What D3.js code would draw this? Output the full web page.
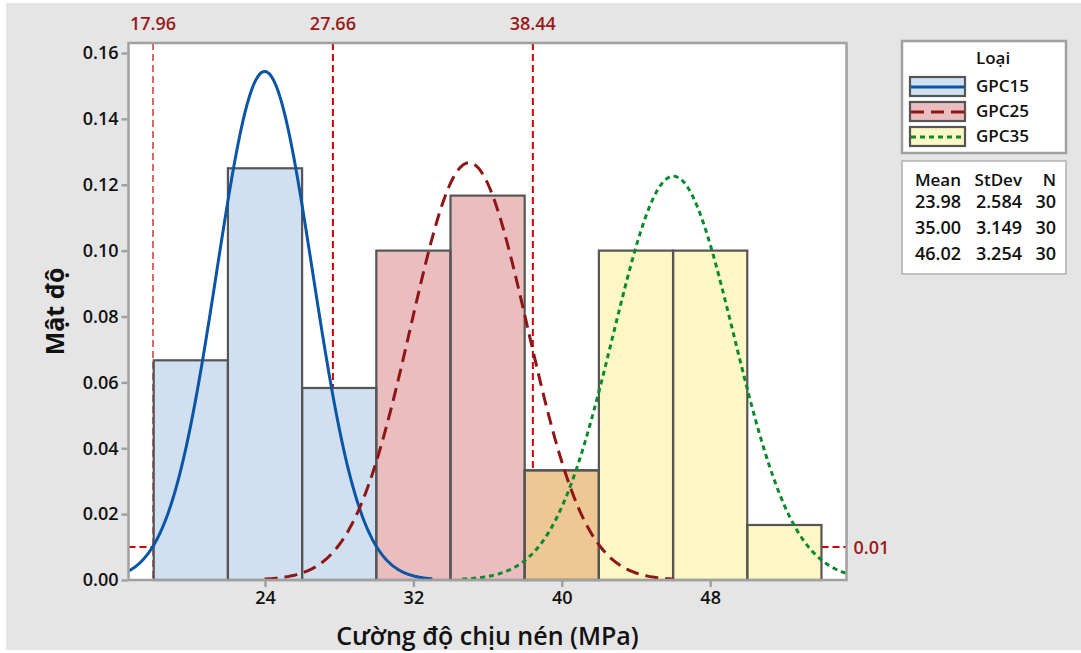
<!DOCTYPE html>
<html>
<head>
<meta charset="utf-8">
<script src="https://cdn.jsdelivr.net/npm/d3@7/dist/d3.min.js"></script>
<style>
  html, body { margin: 0; padding: 0; background: #ffffff; }
  svg { display: block; font-family: "Open Sans", "Noto Sans", sans-serif; }
</style>
</head>
<body>
<svg id="chart" width="1081" height="653"></svg>
<script>
// ---------------- DATA ----------------
const seriesNames = ["GPC15", "GPC25", "GPC35"];
const means = [23.98, 35.00, 46.02];
const stdevs = [2.584, 3.149, 3.254];
const counts = [30, 30, 30];
const binWidth = 4;
// histogram bins (lower edge) and densities
const gpc15BinLo = [18, 22, 26];
const gpc15Density = [0.0667, 0.125, 0.0583];
const gpc25BinLo = [30, 34, 38];
const gpc25Density = [0.1, 0.1167, 0.0333];
const gpc35BinLo = [38, 42, 46, 50];
const gpc35Density = [0.0333, 0.1, 0.1, 0.0167];
// reference lines
const refX = [17.96, 27.66, 38.44];
const refY = [0.01];
const xTicks = [24, 32, 40, 48];
const yTicks = [0, 0.02, 0.04, 0.06, 0.08, 0.10, 0.12, 0.14, 0.16];
const xTitle = "Cường độ chịu nén (MPa)";
const yTitle = "Mật độ";
const legendTitle = "Loại";
const statsHeader = ["Mean", "StDev", "N"];

// ---------------- STYLE ----------------
// semi-transparent fills (colour, opacity) so overlapping bins blend
const fills = [["#d0e0f0", 1], ["#eabebe", 1], ["rgb(248,226,40)", 0.28]];
const lineColors = ["#0a55a5", "#8e1616", "#0b8a2c"];
const dashes = [null, "13,7", "5,4"];
const refColor = "#d00000";
const refLabelColor = "#9a1a1a";
const frameColor = "#a0a0a0";
const textColor = "#111111";

const svg = d3.select("#chart");
const W = 1081, H = 653;
const plot = { left: 128.5, right: 846.5, top: 43, bottom: 580 };

svg.append("rect").attr("x", 6).attr("y", 3).attr("width", W - 6).attr("height", 647).attr("fill", "#e5e5e5");

const x = d3.scaleLinear().domain([16.64, 55.35]).range([plot.left, plot.right]);
const y = d3.scaleLinear().domain([0, 0.16]).range([plot.bottom, 53]);

// plot background
svg.append("rect").attr("x", plot.left).attr("y", plot.top)
  .attr("width", plot.right - plot.left).attr("height", plot.bottom - plot.top)
  .attr("fill", "#ffffff");

svg.append("clipPath").attr("id", "clip").append("rect")
  .attr("x", plot.left).attr("y", plot.top)
  .attr("width", plot.right - plot.left).attr("height", plot.bottom - plot.top);

// reference lines (behind bars)
const refG = svg.append("g").attr("clip-path", "url(#clip)");
refX.forEach((v, i) => {
  refG.append("line")
    .attr("x1", x(v)).attr("x2", x(v))
    .attr("y1", plot.top).attr("y2", plot.bottom)
    .attr("stroke", refColor)
    .attr("stroke-width", i === 0 ? 1.2 : 2)
    .attr("stroke-dasharray", "7,4");
});
refY.forEach(v => {
  svg.append("line")
    .attr("x1", plot.left).attr("x2", plot.right)
    .attr("y1", y(v)).attr("y2", y(v))
    .attr("stroke", refColor).attr("stroke-width", 2)
    .attr("stroke-dasharray", "7,4");
});

// bars
const bins = [
  gpc15BinLo.map((lo, i) => ({ lo, d: gpc15Density[i] })),
  gpc25BinLo.map((lo, i) => ({ lo, d: gpc25Density[i] })),
  gpc35BinLo.map((lo, i) => ({ lo, d: gpc35Density[i] }))
];
const barG = svg.append("g").style("isolation", "isolate");
const barRect = (sel) => sel
  .attr("x", d => x(d.lo)).attr("y", d => y(d.d))
  .attr("width", d => x(d.lo + binWidth) - x(d.lo))
  .attr("height", d => y(0) - y(d.d));
// white backing so reference lines are hidden behind the bars
bins.forEach(arr => {
  barG.selectAll(null).data(arr).enter().append("rect").call(barRect).attr("fill", "#ffffff");
});
bins.forEach((arr, s) => {
  barG.selectAll(null).data(arr).enter().append("rect").call(barRect)
    .attr("fill", fills[s][0]).attr("fill-opacity", fills[s][1]);
});
bins.forEach(arr => {
  barG.selectAll(null).data(arr).enter().append("rect").call(barRect)
    .attr("fill", "none").attr("stroke", "#555555").attr("stroke-width", 2.2);
});

// fitted normal curves (from the mean / stdev shown in the table)
const pdf = (v, m, s) => Math.exp(-0.5 * ((v - m) / s) ** 2) / (s * Math.sqrt(2 * Math.PI));
const curveG = svg.append("g").attr("clip-path", "url(#clip)");
const line = d3.line().x(d => x(d[0])).y(d => y(d[1]));
means.forEach((m, s) => {
  const sd = stdevs[s];
  const lo = Math.max(x.domain()[0], m - 3.5 * sd);
  const hi = Math.min(x.domain()[1], m + 3.5 * sd);
  const pts = d3.range(0, 301).map(k => {
    const v = lo + (hi - lo) * k / 300;
    return [v, pdf(v, m, sd)];
  });
  curveG.append("path").datum(pts)
    .attr("d", line)
    .attr("fill", "none")
    .attr("stroke", lineColors[s])
    .attr("stroke-width", 3)
    .attr("stroke-dasharray", dashes[s]);
});

// frame
svg.append("rect").attr("x", plot.left).attr("y", plot.top)
  .attr("width", plot.right - plot.left).attr("height", plot.bottom - plot.top)
  .attr("fill", "none").attr("stroke", frameColor).attr("stroke-width", 2.5);

// axes
const yAxis = d3.axisLeft(y).tickValues(yTicks).tickFormat(d3.format(".2f")).tickSize(6).tickPadding(3);
const yg = svg.append("g").attr("transform", `translate(${plot.left - 1},0)`).call(yAxis);
const xAxis = d3.axisBottom(x).tickValues(xTicks).tickFormat(d3.format("d")).tickSize(6).tickPadding(4);
const xg = svg.append("g").attr("transform", `translate(0,${plot.bottom + 1})`).call(xAxis);
[yg, xg].forEach(g => {
  g.select(".domain").remove();
  g.selectAll(".tick line").attr("stroke", frameColor).attr("stroke-width", 2.5);
  g.selectAll(".tick text").attr("fill", textColor).style("font-size", "18px").style("font-weight", 600)
    .style("font-family", "'Open Sans', sans-serif");
});

// reference labels
refX.forEach(v => {
  svg.append("text").attr("x", x(v)).attr("y", 30).attr("text-anchor", "middle")
    .attr("fill", refLabelColor).style("font-size", "18px").style("font-weight", 600)
    .text(d3.format(".2f")(v));
});
refY.forEach(v => {
  svg.append("text").attr("x", plot.right + 7).attr("y", y(v) + 7).attr("text-anchor", "start")
    .attr("fill", refLabelColor).style("font-size", "18px").style("font-weight", 600)
    .text(d3.format(".2f")(v));
});

// axis titles
svg.append("text").attr("x", (plot.left + plot.right) / 2).attr("y", 645).attr("text-anchor", "middle")
  .attr("fill", textColor).style("font-size", "25px").style("font-weight", 600).text(xTitle);
svg.append("text").attr("transform", `translate(64,${(plot.top + plot.bottom) / 2}) rotate(-90)`)
  .attr("text-anchor", "middle")
  .attr("fill", textColor).style("font-size", "25px").style("font-weight", 700).text(yTitle);

// legend
const lg = svg.append("g");
lg.append("rect").attr("x", 902).attr("y", 41).attr("width", 164).attr("height", 112)
  .attr("fill", "#fff").attr("stroke", frameColor).attr("stroke-width", 2.5);
lg.append("text").attr("x", 976).attr("y", 64).attr("fill", textColor)
  .style("font-size", "17px").style("font-weight", 600).text(legendTitle);
seriesNames.forEach((n, i) => {
  const yy = 77 + i * 25;
  lg.append("rect").attr("x", 910).attr("y", yy).attr("width", 55).attr("height", 19)
    .attr("fill", "#fff").attr("stroke", "none");
  lg.append("rect").attr("x", 910).attr("y", yy).attr("width", 55).attr("height", 19)
    .attr("fill", fills[i][0]).attr("fill-opacity", fills[i][1])
    .attr("stroke", "#555").attr("stroke-width", 2.2);
  lg.append("line").attr("x1", 911).attr("x2", 964).attr("y1", yy + 10).attr("y2", yy + 10)
    .attr("stroke", lineColors[i]).attr("stroke-width", 3).attr("stroke-dasharray", dashes[i]);
  lg.append("text").attr("x", 976).attr("y", yy + 15).attr("fill", textColor)
    .style("font-size", "17px").style("font-weight", 600).text(n);
});

// stats table
const sg = svg.append("g");
sg.append("rect").attr("x", 902).attr("y", 161).attr("width", 164).attr("height", 113)
  .attr("fill", "#fff").attr("stroke", "#b0b0b0").attr("stroke-width", 1.5);
const colX = [961, 1022, 1056];
statsHeader.forEach((h, j) => {
  sg.append("text").attr("x", colX[j]).attr("y", 186).attr("text-anchor", "end").attr("fill", textColor)
    .style("font-size", "17px").style("font-weight", 600).text(h);
});
means.forEach((m, i) => {
  const row = [d3.format(".2f")(m), d3.format(".3f")(stdevs[i]), counts[i]];
  row.forEach((v, j) => {
    sg.append("text").attr("x", colX[j]).attr("y", 208 + i * 26).attr("text-anchor", "end").attr("fill", textColor)
      .style("font-size", "18px").style("font-weight", 600).text(v);
  });
});
</script>
</body>
</html>
